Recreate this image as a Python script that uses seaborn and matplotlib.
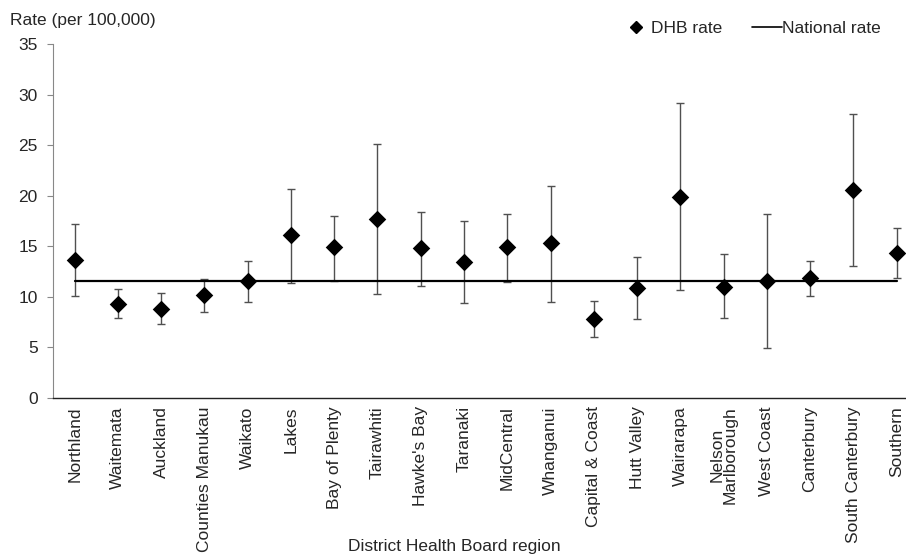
import matplotlib
matplotlib.use("Agg")
import matplotlib.pyplot as plt
import seaborn as sns
import pandas as pd
import numpy as np
from matplotlib.lines import Line2D

regions = ["Northland", "Waitemata", "Auckland", "Counties Manukau", "Waikato", "Lakes",
           "Bay of Plenty", "Tairawhiti", "Hawke's Bay", "Taranaki", "MidCentral", "Whanganui",
           "Capital & Coast", "Hutt Valley", "Wairarapa", "Nelson\nMarlborough", "West Coast",
           "Canterbury", "South Canterbury", "Southern"]
rate = [13.6, 9.3, 8.8, 10.2, 11.6, 16.1, 14.9, 17.7, 14.8, 13.4, 14.9, 15.3,
        7.8, 10.9, 19.9, 11.0, 11.6, 11.9, 20.6, 14.3]
lower = [10.1, 7.9, 7.3, 8.5, 9.5, 11.4, 11.6, 10.3, 11.1, 9.4, 11.5, 9.5,
         6.0, 7.8, 10.7, 7.9, 4.9, 10.1, 13.0, 11.9]
upper = [17.2, 10.8, 10.4, 11.8, 13.5, 20.7, 18.0, 25.1, 18.4, 17.5, 18.2, 21.0,
         9.6, 13.9, 29.2, 14.2, 18.2, 13.5, 28.1, 16.8]
national_rate = 11.55
yticks = [0, 5, 10, 15, 20, 25, 30, 35]

df = pd.DataFrame({"region": regions, "rate": rate, "lower": lower, "upper": upper})
df["national"] = national_rate

sns.set_style("white")
plt.rcParams["font.family"] = ["Liberation Sans", "DejaVu Sans"]

fig = plt.figure(figsize=(9.06, 5.55), dpi=100)
ax = fig.add_axes([0.0585, 0.283, 0.955, 0.6377])

pos = np.arange(len(regions))
ax.errorbar(pos, df["rate"], yerr=[df["rate"] - df["lower"], df["upper"] - df["rate"]],
            fmt="none", ecolor="#505050", elinewidth=1.0, capsize=3, capthick=1.0, zorder=2)
sns.lineplot(x=pos, y=df["national"], ax=ax, color="black", linewidth=1.6, zorder=3, legend=False)
sns.scatterplot(x=pos, y=df["rate"], ax=ax, marker="D", s=80, color="black",
                edgecolor="black", linewidth=0, zorder=4, legend=False)

ax.set_xlim(-0.5, 19.5)
ax.set_ylim(0, 35)
ax.set_yticks(yticks)
ax.set_yticklabels([str(t) for t in yticks], fontsize=12.5)
ax.set_xticks(pos)
ax.set_xticklabels(regions, rotation=90, fontsize=12.5, va="top", ha="center", linespacing=0.9)
ax.tick_params(axis="x", length=0, pad=6)
ax.tick_params(axis="y", length=4, width=0.8, color="#888888", left=True, pad=7)
ax.set_xlabel("")
ax.set_ylabel("")

for s in ["top", "right"]:
    ax.spines[s].set_visible(False)
ax.spines["left"].set_color("#888888")
ax.spines["left"].set_linewidth(0.8)
ax.spines["bottom"].set_color("#222222")
ax.spines["bottom"].set_linewidth(1.0)

fig.text(10 / 906, 1 - 20 / 555, "Rate (per 100,000)", fontsize=12.5, va="center", ha="left")
fig.text(454 / 906, 1 - 547 / 555, "District Health Board region", fontsize=12.5, va="center", ha="center")

handles = [Line2D([0], [0], marker="D", color="none", markerfacecolor="black",
                  markeredgecolor="black", markersize=6),
           Line2D([0], [0], color="black", linewidth=1.2)]
fig.legend(handles, ["DHB rate", "National rate"], loc="center", ncol=2, frameon=False,
           bbox_to_anchor=(751 / 906, 1 - 28 / 555), fontsize=12.5, handlelength=1.7,
           handletextpad=0.05, columnspacing=1.7)

fig.savefig("out.png", dpi=100)
